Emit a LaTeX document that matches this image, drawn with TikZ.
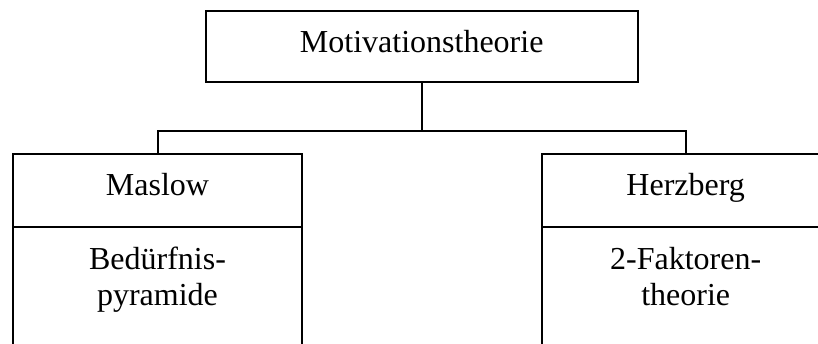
\documentclass[tikz,border=0pt]{standalone}
\usepackage{fontspec}
\setmainfont{Liberation Serif}
\begin{document}
\begin{tikzpicture}[x=1pt, y=-1pt,
  every node/.style={inner sep=0pt, outer sep=0pt},
  frame/.style={draw, line width=2pt, rectangle},
  caption/.style={font=\fontsize{32}{36}\selectfont, align=center, anchor=base},
  link/.style={line width=2pt}]
  \useasboundingbox (0,0) rectangle (818,343);

  % root box
  \node[frame, minimum width=432pt, minimum height=71.3pt] (root) at (421.7,46.35) {};
  \node[caption] (roottext) at (421.7,52) {Motivationstheorie};

  % Maslow column
  \node[frame, minimum width=289pt, minimum height=73pt] (maslow) at (157.5,190.5) {};
  \node[frame, anchor=north, minimum width=289pt, minimum height=160pt] (maslowbody) at (maslow.south) {};
  \node[caption] (maslowhead) at (157.5,195) {Maslow};
  \node[caption] (maslowtext) at (157.5,305) {Bedürfnis-\\pyramide};

  % Herzberg column
  \node[frame, minimum width=288pt, minimum height=73pt] (herz) at (685.7,190.5) {};
  \node[frame, anchor=north, minimum width=288pt, minimum height=160pt] (herzbody) at (herz.south) {};
  \node[caption] (herzhead) at (685.7,195) {Herzberg};
  \node[caption] (herztext) at (685.7,305) {2-Faktoren-\\theorie};

  % tree connectors
  \coordinate (bus) at (421.7,130.5);
  \draw[link] (root.south) -- (bus);
  \draw[link] (maslow.north) |- (bus) -| (herz.north);
\end{tikzpicture}
\end{document}
